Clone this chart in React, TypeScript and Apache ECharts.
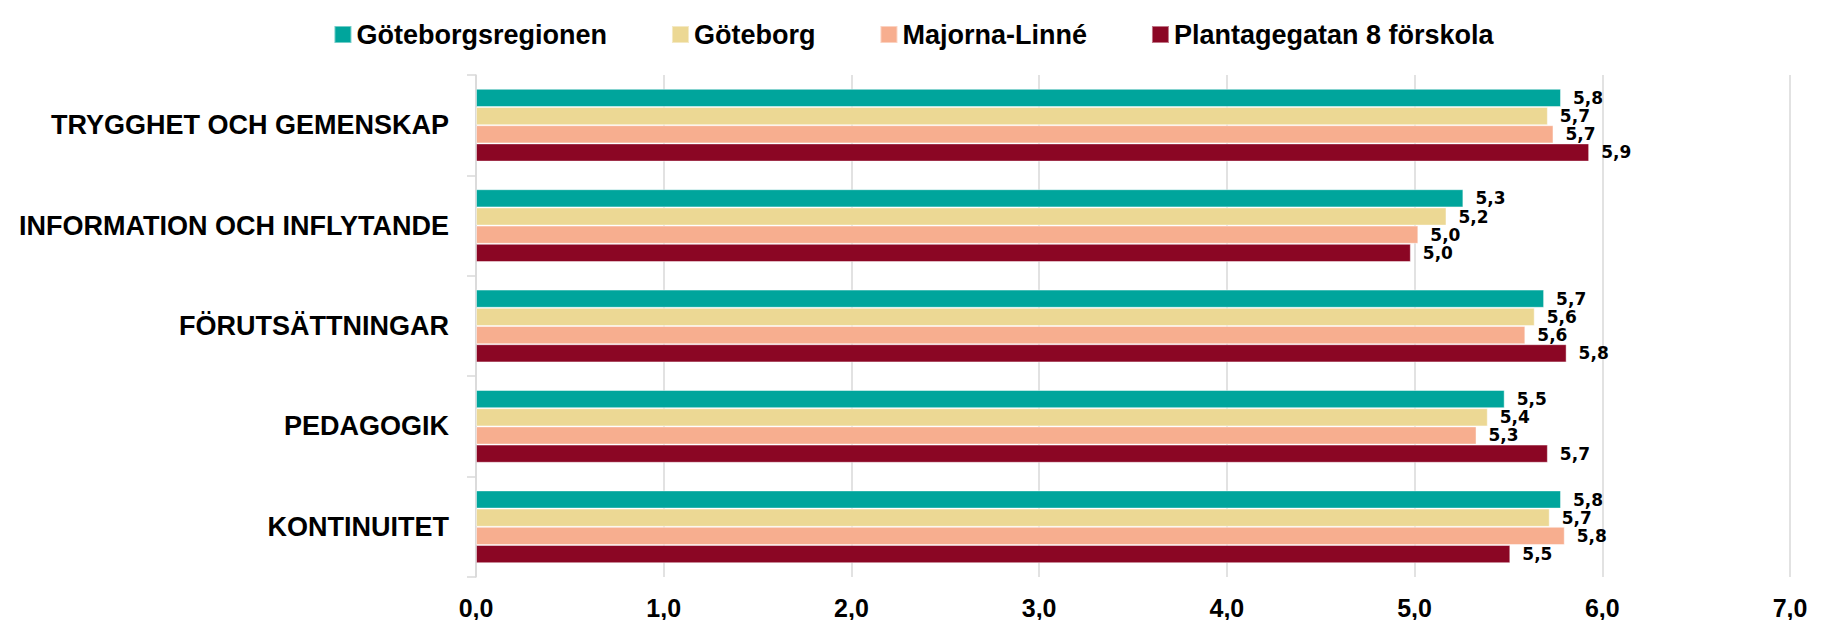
import React, { useEffect, useRef } from "react";
import * as echarts from "echarts";

const categories = [
  "TRYGGHET OCH GEMENSKAP",
  "INFORMATION OCH INFLYTANDE",
  "FÖRUTSÄTTNINGAR",
  "PEDAGOGIK",
  "KONTINUITET",
];

const seriesNames = [
  "Göteborgsregionen",
  "Göteborg",
  "Majorna-Linné",
  "Plantagegatan 8 förskola",
];

const goteborgsregionen = [5.78, 5.26, 5.69, 5.48, 5.78];
const goteborg = [5.71, 5.17, 5.64, 5.39, 5.72];
const majornaLinne = [5.74, 5.02, 5.59, 5.33, 5.8];
const plantagegatan = [5.93, 4.98, 5.81, 5.71, 5.51];

const seriesValues = [goteborgsregionen, goteborg, majornaLinne, plantagegatan];
const colors = ["#00A59C", "#ECD894", "#F7AE8F", "#8B0624"];

const fmt = (v: number) => v.toFixed(1).replace(".", ",");
const FONT = "'Liberation Sans', Arial, sans-serif";
const LABEL_FONT = "'DejaVu Sans', 'Liberation Sans', sans-serif";

export default function App() {
  const ref = useRef<HTMLDivElement>(null);

  useEffect(() => {
    if (!ref.current) return;
    const chart = echarts.init(ref.current, undefined, { renderer: "svg" });
    chart.setOption({
      animation: false,
      backgroundColor: "#ffffff",
      color: colors,
      legend: {
        top: 16,
        left: "center",
        itemWidth: 17,
        itemHeight: 17,
        itemGap: 64,
        icon: "rect",
        textStyle: {
          fontFamily: FONT,
          fontWeight: "bold",
          fontSize: 27,
          color: "#000",
        },
        data: seriesNames,
      },
      grid: {
        left: 476,
        right: 37,
        top: 75,
        bottom: 41,
        containLabel: false,
      },
      xAxis: {
        type: "value",
        min: 0,
        max: 7,
        interval: 1,
        axisLine: { show: false },
        axisTick: { show: false },
        splitLine: { show: true, lineStyle: { color: "#d9d9d9", width: 1.5 } },
        axisLabel: {
          formatter: (v: number) => fmt(v),
          fontFamily: FONT,
          fontWeight: "bold",
          fontSize: 25,
          color: "#000",
          margin: 18,
        },
      },
      yAxis: {
        type: "category",
        inverse: true,
        data: categories,
        axisLine: { show: true, lineStyle: { color: "#d9d9d9", width: 1.5 } },
        axisTick: { show: true, length: 9, lineStyle: { color: "#d9d9d9", width: 1.5 } },
        axisLabel: {
          fontFamily: FONT,
          fontWeight: "bold",
          fontSize: 27,
          color: "#000",
          margin: 27,
        },
      },
      series: seriesNames.map((name, i) => ({
        name,
        type: "bar",
        data: seriesValues[i],
        barGap: "0%",
        barCategoryGap: "27.5%",
        itemStyle: {
          color: colors[i],
          borderColor: "rgba(255,255,255,0.45)",
          borderWidth: 1,
        },
        label: {
          show: true,
          position: "right",
          distance: 12,
          formatter: (p: any) => fmt(p.value),
          fontFamily: LABEL_FONT,
          fontWeight: "bold",
          fontSize: 17,
          color: "#000",
        },
      })),
    });
    return () => chart.dispose();
  }, []);

  return (
    <div
      ref={ref}
      style={{ position: "fixed", left: 0, top: 0, width: 1827, height: 620 }}
    />
  );
}
